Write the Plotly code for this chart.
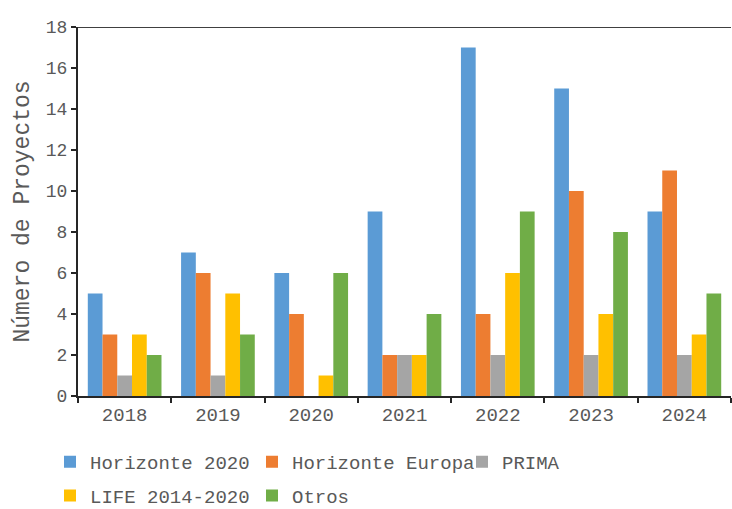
import plotly.graph_objects as go

years = ["2018", "2019", "2020", "2021", "2022", "2023", "2024"]
horizonte_2020 = [5, 7, 6, 9, 17, 15, 9]
horizonte_europa = [3, 6, 4, 2, 4, 10, 11]
prima = [1, 1, 0, 2, 2, 2, 2]
life = [3, 5, 1, 2, 6, 4, 3]
otros = [2, 3, 6, 4, 9, 8, 5]

# name, values, colour, legend column
series = [
    ("Horizonte 2020", horizonte_2020, "#5B9BD5", "legend"),
    ("Horizonte Europa", horizonte_europa, "#ED7D31", "legend2"),
    ("PRIMA", prima, "#A5A5A5", "legend3"),
    ("LIFE 2014-2020", life, "#FFC000", "legend"),
    ("Otros", otros, "#70AD47", "legend2"),
]

FONT = "Courier New, Liberation Mono, monospace"
TXT = "#595959"

fig = go.Figure()
for i, (name, vals, col, lg) in enumerate(series):
    fig.add_trace(go.Bar(x=years, y=vals, name=name, legend=lg, legendgroup=f"g{i}",
                         marker=dict(color=col, line=dict(width=0))))

def leg(x):
    return dict(orientation="v", x=x, y=0.13, xanchor="left", yanchor="top",
                xref="paper", yref="container", tracegroupgap=6,
                borderwidth=0,
                font=dict(family=FONT, size=19, color=TXT),
                itemwidth=30, bgcolor="rgba(0,0,0,0)")

fig.update_layout(
    width=732, height=509,
    paper_bgcolor="white", plot_bgcolor="white",
    barmode="group", bargap=0.21, bargroupgap=0,
    margin=dict(l=78, r=1, t=27, b=113),
    font=dict(family=FONT, color=TXT, size=18),
    showlegend=True,
    legend=leg((50 - 78) / 653),
    legend2=leg((252 - 78) / 653),
    legend3=leg((462 - 78) / 653),
    xaxis=dict(showline=True, linecolor="#262626", linewidth=2, ticks="outside",
               tickson="boundaries", ticklen=5, tickcolor="#262626", tickwidth=2,
               automargin=False,
               tickfont=dict(family=FONT, size=19, color=TXT)),
    yaxis=dict(range=[0, 18], dtick=2, showgrid=False, zeroline=False,
               showline=True, linecolor="#262626", linewidth=2, ticks="outside",
               ticklen=5, tickcolor="#262626", tickwidth=2, automargin=False,
               tickfont=dict(family=FONT, size=18, color=TXT),
               title=dict(text="Número de Proyectos", standoff=10,
                          font=dict(family=FONT, size=23, color=TXT))),
    shapes=[dict(type="line", xref="paper", yref="y", x0=0, x1=1, y0=18, y1=18,
                 line=dict(color="#404040", width=2))],
)

fig.write_html("out.html", config={"displayModeBar": False},
               post_script="document.body.style.margin='0';document.body.style.overflow='hidden';")
